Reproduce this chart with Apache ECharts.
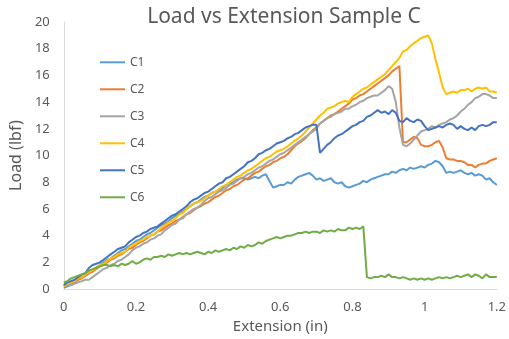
<!DOCTYPE html>
<html>
<head>
<meta charset="utf-8">
<script src="https://cdn.jsdelivr.net/npm/echarts@6/dist/echarts.min.js"></script>
<style>
  html, body { margin: 0; padding: 0; background: #ffffff; }
  #chart { width: 509px; height: 339px; }
</style>
</head>
<body>
<div id="chart"></div>
<script>
// Extension readings (in), shared by all six specimens
const extension = [
  0.00,0.01,0.02,0.03,0.04,0.05,0.06,0.07,0.08,0.09,
  0.10,0.11,0.12,0.13,0.14,0.15,0.16,0.17,0.18,0.19,
  0.20,0.21,0.22,0.23,0.24,0.25,0.26,0.27,0.28,0.29,
  0.30,0.31,0.32,0.33,0.34,0.35,0.36,0.37,0.38,0.39,
  0.40,0.41,0.42,0.43,0.44,0.45,0.46,0.47,0.48,0.49,
  0.50,0.51,0.52,0.53,0.54,0.55,0.56,0.57,0.58,0.59,
  0.60,0.61,0.62,0.63,0.64,0.65,0.66,0.67,0.68,0.69,
  0.70,0.71,0.72,0.73,0.74,0.75,0.76,0.77,0.78,0.79,
  0.80,0.81,0.82,0.83,0.84,0.85,0.86,0.87,0.88,0.89,
  0.90,0.91,0.92,0.93,0.94,0.95,0.96,0.97,0.98,0.99,
  1.00,1.01,1.02,1.03,1.04,1.05,1.06,1.07,1.08,1.09,
  1.10,1.11,1.12,1.13,1.14,1.15,1.16,1.17,1.18,1.19,
  1.20
];

// Load (lbf) per specimen
const c1 = [
  0.1,0.2,0.3,0.5,0.7,0.9,1.0,1.2,1.4,1.6,
  1.8,2.0,2.2,2.3,2.5,2.7,2.9,3.0,3.2,3.4,
  3.6,3.7,3.9,4.1,4.2,4.4,4.6,4.8,4.9,5.1,
  5.3,5.5,5.6,5.8,6.0,6.2,6.4,6.5,6.7,6.9,
  7.0,7.2,7.3,7.4,7.6,7.8,7.9,8.0,8.2,8.3,
  8.3,8.2,8.3,8.4,8.3,8.5,8.6,8.1,7.6,7.7,
  7.8,7.8,8.0,7.9,8.2,8.4,8.5,8.6,8.7,8.5,
  8.2,8.3,8.1,8.2,8.3,8.0,7.9,8.0,7.7,7.6,
  7.7,7.8,7.9,8.1,8.0,8.2,8.3,8.4,8.5,8.6,
  8.6,8.8,8.7,8.9,9.0,8.9,9.1,9.0,9.1,9.2,
  9.1,9.3,9.4,9.6,9.5,9.2,8.7,8.8,8.7,8.8,
  8.9,8.7,8.6,8.7,8.5,8.6,8.5,8.2,8.3,8.0,
  7.8
];
const c2 = [
  0.2,0.3,0.4,0.5,0.7,0.8,1.0,1.2,1.3,1.5,
  1.7,1.8,2.0,2.2,2.3,2.5,2.6,2.8,3.0,3.1,
  3.3,3.5,3.6,3.8,4.0,4.1,4.3,4.4,4.6,4.8,
  4.9,5.1,5.2,5.4,5.6,5.7,5.9,6.1,6.2,6.4,
  6.5,6.7,6.9,7.0,7.2,7.4,7.5,7.7,7.8,8.0,
  8.2,8.3,8.5,8.7,8.8,9.0,9.2,9.3,9.5,9.6,
  9.8,9.9,10.1,10.4,10.7,10.9,11.1,11.3,11.6,11.9,
  12.1,12.4,12.6,12.8,13.0,13.1,13.3,13.5,13.7,13.9,
  14.2,14.3,14.5,14.6,14.8,15.0,15.2,15.4,15.6,15.8,
  16.0,16.3,16.5,16.7,11.0,11.0,11.2,11.4,11.3,10.8,
  10.7,10.7,10.8,11.0,11.1,10.6,9.8,9.7,9.7,9.6,
  9.6,9.5,9.3,9.3,9.1,9.3,9.4,9.4,9.6,9.7,
  9.8
];
const c3 = [
  0.2,0.3,0.3,0.4,0.5,0.6,0.7,0.7,0.9,1.1,
  1.3,1.5,1.6,1.8,1.9,2.1,2.2,2.4,2.6,2.9,
  3.1,3.2,3.4,3.5,3.7,3.8,4.0,4.1,4.4,4.6,
  4.8,4.9,5.2,5.3,5.6,5.8,6.0,6.1,6.3,6.6,
  6.8,6.9,7.1,7.3,7.4,7.6,7.8,7.9,8.1,8.3,
  8.4,8.6,8.7,8.9,9.1,9.2,9.4,9.6,9.7,9.9,
  10.1,10.2,10.4,10.6,10.8,11.0,11.2,11.4,11.6,11.8,
  12.0,12.4,12.6,12.8,12.9,13.1,13.2,13.3,13.5,13.5,
  13.7,13.8,14.0,14.1,14.3,14.4,14.5,14.5,14.7,14.9,
  15.2,15.0,14.0,12.1,10.8,10.7,10.9,11.2,11.5,11.8,
  11.9,12.0,12.2,12.1,12.3,12.4,12.5,12.7,12.8,13.0,
  13.3,13.5,13.8,14.0,14.3,14.4,14.6,14.6,14.5,14.3,
  14.3
];
const c4 = [
  0.2,0.4,0.5,0.6,0.8,0.9,1.1,1.3,1.4,1.6,
  1.8,1.9,2.1,2.3,2.4,2.6,2.7,2.8,3.1,3.3,
  3.4,3.6,3.7,3.9,4.0,4.1,4.3,4.6,4.8,5.0,
  5.1,5.3,5.6,5.7,6.0,6.2,6.4,6.5,6.6,6.8,
  7.0,7.2,7.3,7.5,7.7,7.8,8.0,8.2,8.4,8.5,
  8.7,8.9,9.0,9.2,9.4,9.6,9.8,9.9,10.1,10.3,
  10.4,10.5,10.7,10.9,11.1,11.3,11.5,11.8,12.1,12.4,
  12.7,13.0,13.2,13.5,13.6,13.7,13.9,14.0,14.1,14.0,
  14.4,14.6,14.8,15.0,15.1,15.3,15.5,15.7,15.9,16.1,
  16.4,16.7,17.0,17.3,17.8,17.9,18.2,18.4,18.6,18.8,
  18.9,19.0,18.4,17.2,16.2,15.1,14.6,14.7,14.8,14.7,
  14.9,14.9,15.0,14.8,15.0,15.1,15.0,15.1,14.8,14.8,
  14.7
];
const c5 = [
  0.3,0.5,0.6,0.7,0.9,1.1,1.2,1.6,1.8,1.9,
  2.0,2.2,2.4,2.6,2.8,3.0,3.1,3.2,3.5,3.7,
  3.9,4.0,4.2,4.3,4.5,4.6,4.7,4.9,5.1,5.3,
  5.5,5.6,5.8,6.0,6.2,6.5,6.7,6.8,7.0,7.2,
  7.3,7.5,7.7,7.9,8.0,8.3,8.4,8.6,8.8,9.0,
  9.2,9.5,9.6,9.8,10.1,10.2,10.4,10.5,10.7,10.9,
  11.0,11.1,11.3,11.4,11.6,11.7,11.9,12.1,12.2,12.3,
  12.3,10.2,10.5,10.8,11.0,11.3,11.5,11.6,11.8,12.0,
  12.2,12.3,12.5,12.6,12.9,13.0,13.2,13.4,13.2,13.3,
  13.1,13.4,13.2,12.6,12.5,12.8,12.6,12.5,12.7,12.6,
  12.2,11.9,12.0,12.1,12.2,12.1,12.3,12.4,12.3,12.0,
  12.2,12.0,11.9,12.1,11.9,12.2,12.3,12.2,12.3,12.5,
  12.5
];
const c6 = [
  0.5,0.6,0.8,0.9,1.0,1.1,1.2,1.4,1.5,1.6,
  1.7,1.8,1.8,1.7,1.8,1.7,1.9,1.8,1.9,2.1,
  1.9,2.0,2.2,2.3,2.2,2.4,2.4,2.5,2.4,2.6,
  2.5,2.6,2.7,2.6,2.7,2.6,2.7,2.8,2.7,2.6,
  2.8,2.7,2.9,2.8,2.9,3.0,2.9,3.1,3.0,3.2,
  3.1,3.3,3.2,3.3,3.5,3.4,3.6,3.7,3.8,3.9,
  3.8,3.9,4.0,4.0,4.1,4.2,4.2,4.3,4.2,4.3,
  4.3,4.2,4.4,4.3,4.4,4.3,4.5,4.4,4.4,4.6,
  4.5,4.6,4.5,4.7,0.9,0.8,0.9,0.9,1.0,0.9,
  1.1,0.9,0.9,0.8,0.9,0.8,0.7,0.8,0.7,0.8,
  0.7,0.8,0.7,0.8,0.9,0.8,0.9,0.8,0.9,1.0,
  0.9,1.0,1.1,0.9,1.1,1.0,0.8,1.1,0.9,0.9,
  0.9
];

const seriesNames = ['C1', 'C2', 'C3', 'C4', 'C5', 'C6'];
const seriesValues = [c1, c2, c3, c4, c5, c6];
const palette = ['#5B9BD5', '#ED7D31', '#A5A5A5', '#FFC000', '#4472C4', '#70AD47'];

const textColor = '#595959';
const font = 'Noto Sans';

const chart = echarts.init(document.getElementById('chart'), null, { renderer: 'canvas' });

chart.setOption({
  animation: false,
  backgroundColor: '#ffffff',
  color: palette,
  title: {
    text: 'Load vs Extension Sample C',
    left: 279,
    textAlign: 'center',
    top: 2,
    textStyle: { color: textColor, fontFamily: font, fontSize: 21, fontWeight: 'normal' }
  },
  legend: {
    orient: 'vertical',
    left: 100,
    top: 55,
    padding: 0,
    icon: 'rect',
    itemWidth: 25,
    itemHeight: 2,
    itemGap: 12.4,
    data: seriesNames,
    textStyle: { color: textColor, fontFamily: font, fontSize: 12, lineHeight: 14.6 }
  },
  grid: { left: 60, right: 11, top: 22, bottom: 46, containLabel: false },
  xAxis: {
    type: 'value',
    min: 0,
    max: 1.2,
    interval: 0.2,
    name: 'Extension (in)',
    nameLocation: 'middle',
    nameGap: 26,
    nameTextStyle: { color: textColor, fontFamily: font, fontSize: 15 },
    axisLine: { show: true, lineStyle: { color: '#D9D9D9', width: 1 } },
    axisTick: { show: false },
    splitLine: { show: false },
    axisLabel: {
      color: textColor, fontFamily: font, fontSize: 13, margin: 12,
      formatter: v => String(Math.round(v * 10) / 10)
    }
  },
  yAxis: {
    type: 'value',
    min: 0,
    max: 20,
    interval: 2,
    name: 'Load (lbf)',
    nameLocation: 'middle',
    nameGap: 35,
    nameTextStyle: { color: textColor, fontFamily: font, fontSize: 16 },
    axisLine: { show: true, lineStyle: { color: '#D9D9D9', width: 1 } },
    axisTick: { show: false },
    splitLine: { show: false },
    axisLabel: { color: textColor, fontFamily: font, fontSize: 13, margin: 14 }
  },
  series: seriesNames.map((name, k) => ({
    name: name,
    type: 'line',
    symbol: 'none',
    smooth: false,
    lineStyle: { width: 2, color: palette[k] },
    itemStyle: { color: palette[k] },
    data: extension.map((x, i) => [x, seriesValues[k][i]])
  }))
});
</script>
</body>
</html>
